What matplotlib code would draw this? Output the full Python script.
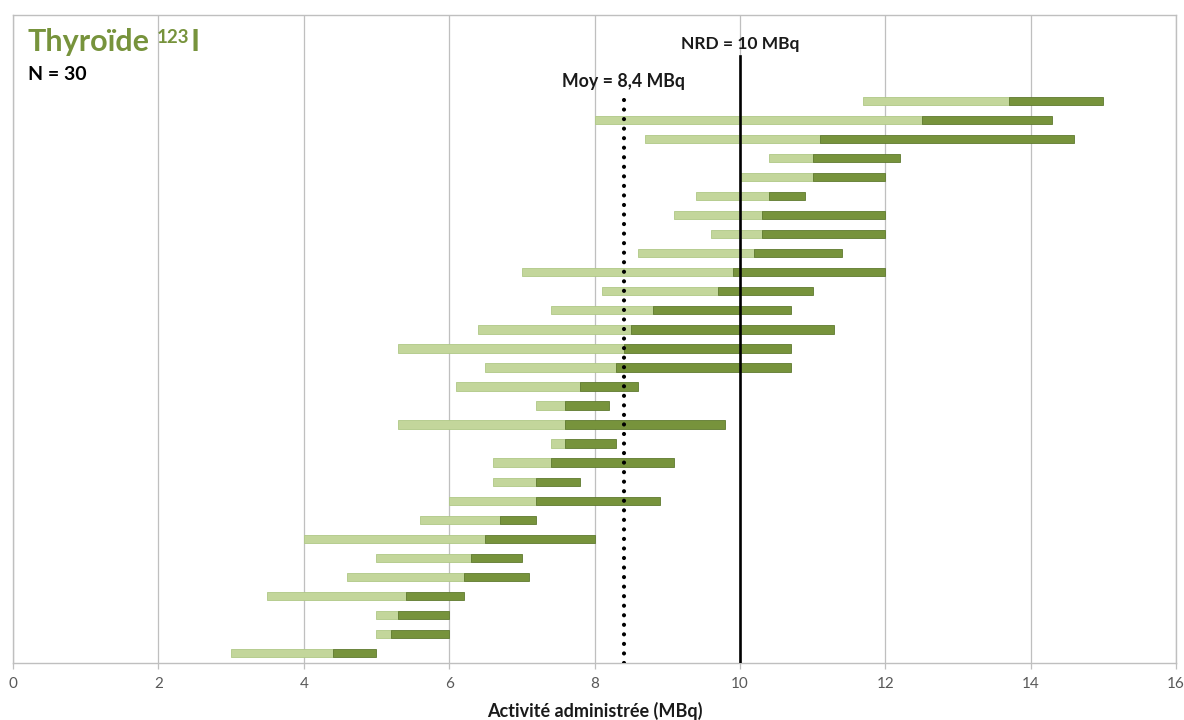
import matplotlib
matplotlib.use("Agg")
import matplotlib.pyplot as plt
import numpy as np

plt.rcParams['font.family'] = ['Lato', 'DejaVu Sans']

# Administered activity per centre (MBq), ordered by median, bottom to top
act_min = [3.0, 5.0, 5.0, 3.5, 4.6, 5.0, 4.0, 5.6, 6.0, 6.6,
           6.6, 7.4, 5.3, 7.2, 6.1, 6.5, 5.3, 6.4, 7.4, 8.1,
           7.0, 8.6, 9.6, 9.1, 9.4, 10.0, 10.4, 8.7, 8.0, 11.7]
act_med = [4.4, 5.2, 5.3, 5.4, 6.2, 6.3, 6.5, 6.7, 7.2, 7.2,
           7.4, 7.6, 7.6, 7.6, 7.8, 8.3, 8.4, 8.5, 8.8, 9.7,
           9.9, 10.2, 10.3, 10.3, 10.4, 11.0, 11.0, 11.1, 12.5, 13.7]
act_max = [5.0, 6.0, 6.0, 6.2, 7.1, 7.0, 8.0, 7.2, 8.9, 7.8,
           9.1, 8.3, 9.8, 8.2, 8.6, 10.7, 10.7, 11.3, 10.7, 11.0,
           12.0, 11.4, 12.0, 12.0, 10.9, 12.0, 12.2, 14.6, 14.3, 15.0]

nrd_value = 10.0
mean_value = 8.4
n_centres = 30
x_ticks = [0, 2, 4, 6, 8, 10, 12, 14, 16]

light_green = '#C3D69B'
light_edge = '#AFC886'
dark_green = '#77933C'
dark_edge = '#5F7A2E'
grid_gray = '#BFBFBF'

W, H = 1184, 720
fig = plt.figure(figsize=(W / 100, H / 100), dpi=100)
ax = fig.add_axes([13 / W, 1 - 662.7 / H, (1176 - 13) / W, (662.7 - 15) / H])

act_min = np.array(act_min)
act_med = np.array(act_med)
act_max = np.array(act_max)
ypos = np.arange(len(act_min)) + 0.5

ax.barh(ypos, act_med - act_min, left=act_min, height=0.44,
        color=light_green, edgecolor=light_edge, linewidth=0.6, zorder=2)
ax.barh(ypos, act_max - act_med, left=act_med, height=0.44,
        color=dark_green, edgecolor=dark_edge, linewidth=0.6, zorder=2)

# Reference level and mean
ax.axvline(nrd_value, ymin=0, ymax=0.936, color='black', lw=1.9, zorder=4)
ax.axvline(mean_value, ymin=0, ymax=0.871, color='black', lw=3.0,
           linestyle=(0, (0.01, 2.28)), dash_capstyle='round', zorder=4)
ax.text(nrd_value, 32.5, 'NRD = 10 MBq', ha='center', va='center',
        fontsize=12.5, fontweight='bold', color='#1a1a1a')
ax.text(mean_value, 30.5, 'Moy = 8,4 MBq', ha='center', va='center',
        fontsize=12.8, fontweight='bold', color='#1a1a1a')

ax.set_xlim(0, 16)
ax.set_ylim(0, 34)
ax.set_xticks(x_ticks)
ax.set_xticklabels([str(t) for t in x_ticks])
ax.set_yticks([])
ax.grid(axis='x', color=grid_gray, lw=0.9, zorder=0)
ax.set_axisbelow(True)
for s in ax.spines.values():
    s.set_color(grid_gray)
    s.set_linewidth(1.0)
ax.tick_params(axis='x', length=4, width=0.9, color=grid_gray,
               labelcolor='#595959', labelsize=11, pad=6)
ax.set_xlabel('Activité administrée (MBq)', fontsize=13, fontweight='bold',
              color='#1a1a1a', labelpad=8)

# Title with superscript isotope mass number
title = fig.text(28 / W, 1 - 42 / H, 'Thyroïde', ha='left', va='center',
                 fontsize=22, fontweight='bold', color=dark_green)
sup = ax.annotate('123', xy=(1, 1), xycoords=title, xytext=(4.5, -1),
                  textcoords='offset points', ha='left', va='top',
                  fontsize=13.5, fontweight='bold', color=dark_green,
                  annotation_clip=False)
ax.annotate('I', xy=(1, 0), xycoords=(sup, title), xytext=(1, 0),
            textcoords='offset points', ha='left', va='bottom',
            fontsize=22, fontweight='bold', color=dark_green,
            annotation_clip=False)
fig.text(28 / W, 1 - 74 / H, f'N = {n_centres}', ha='left', va='center',
         fontsize=14, fontweight='bold', color='black')

fig.savefig('out.png', dpi=100)
